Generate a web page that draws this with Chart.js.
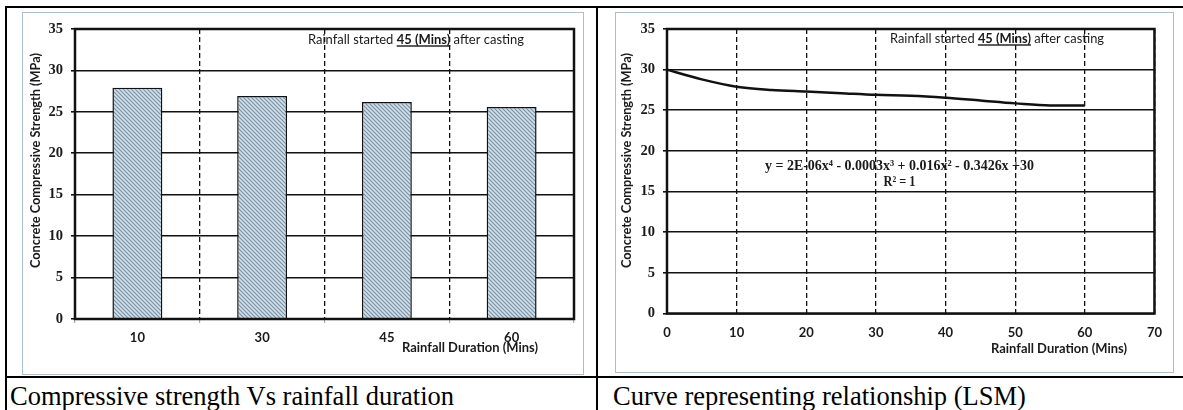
<!DOCTYPE html>
<html>
<head>
<meta charset="utf-8">
<script src="https://cdn.jsdelivr.net/npm/chart.js@4.4.1/dist/chart.umd.min.js"></script>
<style>
body{margin:0;background:#fff;width:1183px;height:410px;overflow:hidden;position:relative}
.ln{position:absolute;background:#000}
.frame{position:absolute;border:1.5px solid #a9bfd6;box-sizing:border-box}
.box{position:absolute}
.cap{position:absolute;font-family:'Liberation Serif','Times New Roman',serif;font-size:26.5px;color:#000;white-space:nowrap;line-height:1}
</style>
</head>
<body>
<div class="ln" style="left:5px;top:6px;width:1178px;height:2px"></div>
<div class="ln" style="left:5px;top:6px;width:2px;height:404px"></div>
<div class="ln" style="left:596px;top:6px;width:2px;height:404px"></div>
<div class="ln" style="left:5px;top:376px;width:1178px;height:2px"></div>
<div class="frame" style="left:22px;top:12px;width:562px;height:363px"></div>
<div class="frame" style="left:615px;top:12px;width:559px;height:361px"></div>
<div class="box" style="left:22px;top:12px;width:562px;height:363px"><canvas id="c1"></canvas></div>
<div class="box" style="left:615px;top:12px;width:559px;height:361px"><canvas id="c2"></canvas></div>
<div class="cap" style="left:10px;top:383px">Compressive strength Vs rainfall duration</div>
<div class="cap" style="left:613px;top:383px">Curve representing relationship (LSM)</div>
<script>
// bar chart: strength per rainfall duration
const barLabels = ['10', '30', '45', '60'];
const barValues = [27.9, 26.9, 26.2, 25.6];

// fitted curve
const curveX = [0, 5, 10, 15, 20, 25, 30, 35, 40, 45, 50, 55, 60];
const curveY = [30, 28.8, 27.9, 27.5, 27.3, 27.1, 26.9, 26.8, 26.55, 26.2, 25.85, 25.6, 25.6];

const yTicks = [0, 5, 10, 15, 20, 25, 30, 35];
const xTicks = [0, 10, 20, 30, 40, 50, 60, 70];

const SANS = "Lato, 'Open Sans', sans-serif";
const SERIF = "'Liberation Serif', 'Times New Roman', serif";
const INK = '#1a1a1a';

// draw a line of text parts squeezed to width w, starting at x (middle baseline)
function runs(ctx, parts, x, y, w, size, fam) {
    let tot = 0;
    parts.forEach(p => {
        ctx.font = (p[1] ? 'bold ' : '') + size + 'px ' + fam;
        p.w = ctx.measureText(p[0]).width;
        tot += p.w;
    });
    const f = w / tot;
    ctx.save();
    ctx.translate(x, y);
    ctx.scale(f, 1);
    ctx.textBaseline = 'middle';
    ctx.textAlign = 'left';
    ctx.fillStyle = INK;
    let cx = 0;
    parts.forEach(p => {
        ctx.font = (p[1] ? 'bold ' : '') + size + 'px ' + fam;
        ctx.fillText(p[0], cx, 0);
        if (p[2]) ctx.fillRect(cx, size * 0.45, p.w, 1.4);
        cx += p.w;
    });
    ctx.restore();
}

const decor = {
    id: 'decor',
    afterDatasetsDraw(chart, args, o) {
        const ctx = chart.ctx, a = chart.chartArea;
        ctx.save();
        ctx.lineWidth = 2.5;
        ctx.strokeStyle = '#111';
        ctx.strokeRect(a.left, a.top, a.right - a.left, a.bottom - a.top);
        ctx.restore();

        // y title
        ctx.save();
        ctx.translate(o.yt[0], o.yt[1]);
        ctx.rotate(-Math.PI / 2);
        runs(ctx, [['Concrete Compressive Strength (MPa)', true]], -107, 0, 215, 13.5, SANS);
        ctx.restore();

        runs(ctx, [['Rainfall Duration (Mins)', true]], o.xt[0] - 68, o.xt[1], 136, 14, SANS);
        runs(ctx, [['Rainfall started ', false], ['45 (Mins)', true, true], [' after casting', false]],
            o.an[0], o.an[1], o.an[2], 14, SANS);

        if (o.eq) {
            runs(ctx, [['y = 2E-06x\u2074 - 0.0003x\u00b3 + 0.016x\u00b2 - 0.3426x +30', true]],
                o.eq[0] - 134.5, o.eq[1], 269, 14.5, SERIF);
            runs(ctx, [['R\u00b2 = 1', true]], o.eq[0] - 16, o.eq[1] + 16, 32, 14.5, SERIF);
        }
    }
};

function hatch(c) {
    const t = document.createElement('canvas');
    t.width = 4; t.height = 4;
    const g = t.getContext('2d');
    g.fillStyle = '#d0dfe9';
    g.fillRect(0, 0, 4, 4);
    g.strokeStyle = '#7890a3';
    g.lineWidth = 1.1;
    g.beginPath();
    g.moveTo(-1, -1); g.lineTo(5, 5);
    g.moveTo(-1, 3); g.lineTo(1, 5);
    g.moveTo(3, -1); g.lineTo(5, 1);
    g.stroke();
    return c.getContext('2d').createPattern(t, 'repeat');
}

const yScale = (w) => ({
    min: 0, max: 35,
    afterBuildTicks: s => { s.ticks = yTicks.map(v => ({value: v})); },
    ticks: {font: {family: SERIF, weight: 'bold', size: 14.5}, color: INK, padding: 8},
    grid: {color: '#111', lineWidth: 1.6, tickLength: 4},
    border: {display: false},
    afterFit: s => { s.width = w; }
});

const c1 = document.getElementById('c1');
new Chart(c1, {
    type: 'bar',
    data: {
        labels: barLabels,
        datasets: [{
            data: barValues,
            backgroundColor: hatch(c1),
            borderColor: '#111',
            borderWidth: 1.5,
            barPercentage: 0.4,
            categoryPercentage: 1
        }]
    },
    options: {
        responsive: true, maintainAspectRatio: false, animation: false,
        layout: {padding: {top: 17, right: 10, left: 0, bottom: 0}},
        plugins: {
            legend: {display: false}, tooltip: {enabled: false},
            decor: {yt: [14, 149], xt: [448, 335], an: [286, 27, 216]}
        },
        scales: {
            x: {
                grid: {offset: true, color: '#111', lineWidth: 1.3, borderDash: [5, 3],
                    tickColor: '#999', tickLength: 4, tickWidth: 1},
                border: {display: false, dash: [5, 3]},
                ticks: {font: {family: SANS, weight: 'bold', size: 13}, color: INK, padding: 7},
                afterFit: s => { s.height = 56; }
            },
            y: yScale(53)
        }
    },
    plugins: [decor]
});

const c2 = document.getElementById('c2');
new Chart(c2, {
    type: 'line',
    data: {
        datasets: [{
            data: curveX.map((x, i) => ({x: x, y: curveY[i]})),
            borderColor: '#111',
            borderWidth: 2.5,
            pointRadius: 0,
            cubicInterpolationMode: 'monotone',
            fill: false
        }]
    },
    options: {
        responsive: true, maintainAspectRatio: false, animation: false,
        layout: {padding: {top: 17, right: 13.5, left: 0, bottom: 0}},
        plugins: {
            legend: {display: false}, tooltip: {enabled: false},
            decor: {yt: [12, 149], xt: [444, 336], an: [275, 26, 214], eq: [284.5, 154]}
        },
        scales: {
            x: {
                type: 'linear', min: 0, max: 70,
                afterBuildTicks: s => { s.ticks = xTicks.map(v => ({value: v})); },
                grid: {color: '#111', lineWidth: 1.3, borderDash: [5, 3], drawTicks: false},
                border: {display: false, dash: [5, 3]},
                ticks: {font: {family: SANS, weight: 'bold', size: 13}, color: INK, padding: 12},
                afterFit: s => { s.height = 59.5; }
            },
            y: yScale(52)
        }
    },
    plugins: [decor]
});
</script>
</body>
</html>
